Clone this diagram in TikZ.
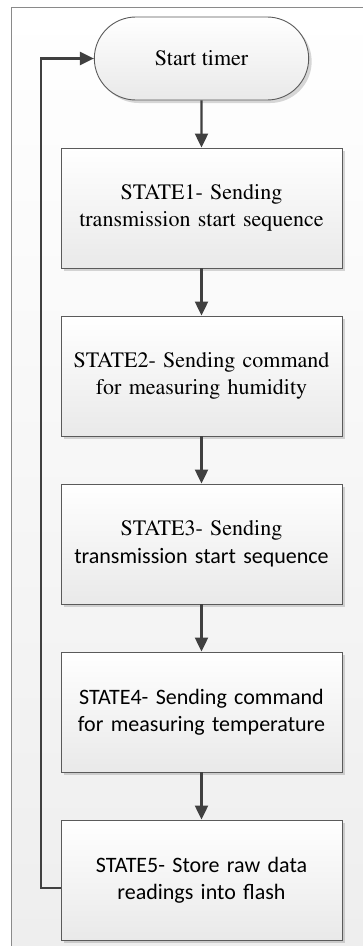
\documentclass[tikz,border=0pt]{standalone}
\usepackage[T1]{fontenc}
\usepackage{fontspec}
% Times-style roman from the PostScript font set, Calibri-style sans via Carlito
\newcommand\timesfont{\fontencoding{T1}\fontfamily{ptm}\selectfont}
\newfontfamily\carlitofont{Carlito}
\newcommand\calibrifont{\fontencoding{TU}\carlitofont}
\usetikzlibrary{arrows.meta,shapes.misc,shadows}
\definecolor{boxline}{HTML}{5A5A5A}
\definecolor{boxbottom}{HTML}{E9E9E9}
\definecolor{flowgray}{HTML}{404040}
\definecolor{framegray}{HTML}{8A8A8A}
\definecolor{pagebottom}{HTML}{EEEEEE}
\begin{document}
\begin{tikzpicture}[x=1pt,y=-1pt,
  softshadow/.style={drop shadow={shadow xshift=3pt, shadow yshift=-3pt, opacity=0.22, fill=black!70}},
  statebox/.style={draw=boxline, line width=0.9pt, top color=white, bottom color=boxbottom,
    minimum width=281pt, minimum height=120pt, text width=275pt, align=center,
    inner sep=0pt, font=\timesfont\fontsize{22}{27.5}\selectfont, softshadow},
  sansbox/.style={statebox, font=\calibrifont\fontsize{22}{27.5}\selectfont},
  terminal/.style={rounded rectangle, draw=boxline, line width=0.9pt, top color=white,
    bottom color=boxbottom, minimum width=221pt, minimum height=83pt,
    font=\timesfont\fontsize{22}{27.5}\selectfont, softshadow},
  flow/.style={draw=flowgray, line width=2.2pt, -{Triangle[length=14pt,width=13pt]}}]

% page and frame
\useasboundingbox (0,0) rectangle (363,946);
\shade[top color=white, bottom color=pagebottom] (11,7) rectangle (363,946);
\draw[framegray, line width=0.9pt] (11,946) -- (11,7) -- (363,7);

% steps
\node[terminal] (start) at (201.5,58.5) {Start timer};
\node[statebox] (s1) at (201.5,208) {STATE1- Sending\\transmission start sequence};
\node[statebox] (s2) at (201.5,376) {STATE2- Sending command\\for measuring humidity};
\node[statebox] (s3) at (201.5,544) {STATE3- Sending\\{\calibrifont transmission start sequence}};
\node[sansbox] (s4) at (201.5,712) {STATE4- Sending command\\for measuring temperature};
\node[sansbox] (s5) at (201.5,880) {STATE5- Store raw data\\readings into flash};

% connectors
\draw[flow] (start) -- (s1);
\draw[flow] (s1) -- (s2);
\draw[flow] (s2) -- (s3);
\draw[flow] (s3) -- (s4);
\draw[flow] (s4) -- (s5);

\coordinate (loopcorner) at (41,888);
\draw[flow] (s5.west |- loopcorner) -- (loopcorner) |- (start.west);
\end{tikzpicture}
\end{document}
